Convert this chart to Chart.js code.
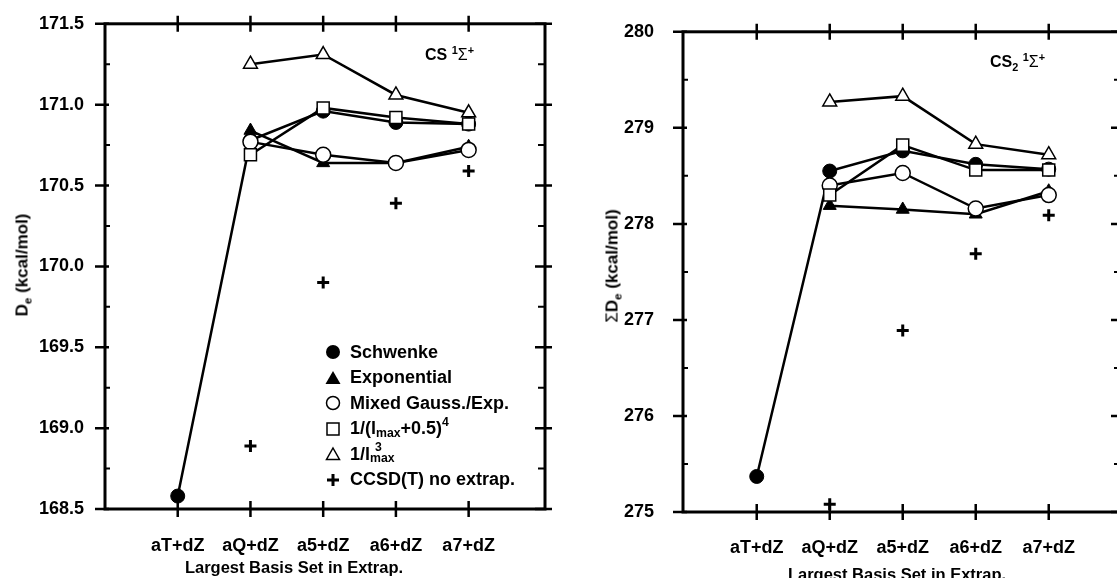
<!DOCTYPE html>
<html><head><meta charset="utf-8">
<script src="https://cdn.jsdelivr.net/npm/chart.js@4.4.0/dist/chart.umd.min.js"></script>
<style>
html,body{margin:0;padding:0;background:#fff;overflow:hidden;width:1117px;height:578px;}
#wrap{position:relative;width:1117px;height:578px;overflow:hidden;font-family:"Liberation Sans",Arial,Helvetica,sans-serif;font-weight:bold;color:#000;}
canvas{position:absolute;top:0;}
.t{position:absolute;white-space:nowrap;line-height:1;}
.c{transform:translate(-50%,-50%);}
.rot{transform:translate(-50%,-50%) rotate(-90deg);}
sub,sup{font-size:68%;line-height:0;position:relative;vertical-align:baseline;}
sub{top:0.35em;} sup{top:-0.55em;}
.sym{font-weight:normal;}
.lg{position:absolute;left:324px;font-size:18px;white-space:nowrap;display:flex;align-items:center;height:24px;}
.lg svg{width:18px;height:18px;margin-right:8px;}
</style>
</head>
<body>
<div id="wrap">
<canvas id="c1" width="560" height="578" style="left:0;width:560px;height:578px"></canvas>
<canvas id="c2" width="580" height="578" style="left:560px;width:580px;height:578px"></canvas>

<div class="t rot" style="left:22px;top:265px;font-size:17px">D<sub>e</sub> (kcal/mol)</div>
<div class="t rot" style="left:612px;top:266px;font-size:17px"><span class="sym">&Sigma;</span>D<sub>e</sub> (kcal/mol)</div>
<div class="t c" style="left:294px;top:567px;font-size:16.5px">Largest Basis Set in Extrap.</div>
<div class="t c" style="left:897px;top:574px;font-size:16.5px">Largest Basis Set in Extrap.</div>
<div class="t" style="left:425px;top:47px;font-size:16px">CS <sup>1</sup><span class="sym">&Sigma;</span><sup>+</sup></div>
<div class="t" style="left:990px;top:54px;font-size:16px">CS<sub>2</sub> <sup>1</sup><span class="sym">&Sigma;</span><sup>+</sup></div>

<div class="lg" style="top:340px"><svg viewBox="0 0 18 18"><circle cx="9" cy="9" r="7" fill="#000"/></svg>Schwenke</div>
<div class="lg" style="top:365.5px"><svg viewBox="0 0 18 18"><polygon points="9,2 16.5,15 1.5,15" fill="#000"/></svg>Exponential</div>
<div class="lg" style="top:391px"><svg viewBox="0 0 18 18"><circle cx="9" cy="9" r="6.5" fill="#fff" stroke="#000" stroke-width="1.5"/></svg>Mixed Gauss./Exp.</div>
<div class="lg" style="top:416.5px"><svg viewBox="0 0 18 18"><rect x="3" y="3" width="12" height="12" fill="#fff" stroke="#000" stroke-width="1.5"/></svg>1/(l<sub>max</sub>+0.5)<sup>4</sup></div>
<div class="lg" style="top:442px"><svg viewBox="0 0 18 18"><polygon points="9,3 15.5,14.5 2.5,14.5" fill="#fff" stroke="#000" stroke-width="1.5"/></svg>1/l<sub>max</sub><sup style="margin-left:-1.6em">3</sup><span style="display:inline-block;width:1.0em"></span></div>
<div class="lg" style="top:467.5px"><svg viewBox="0 0 18 18"><path d="M9 3 V15 M3 9 H15" stroke="#000" stroke-width="3"/></svg>CCSD(T) no extrap.</div>
</div>

<script>
const categories = ['aT+dZ', 'aQ+dZ', 'a5+dZ', 'a6+dZ', 'a7+dZ'];
const seriesNames = ['Schwenke', 'Exponential', 'Mixed Gauss./Exp.', '1/(lmax+0.5)^4', '1/lmax^3', 'CCSD(T) no extrap.'];

// CS 1Σ+  De (kcal/mol)
const csSchwenke    = [168.58, 170.78, 170.96, 170.89, 170.88];
const csExponential = [null,   170.84, 170.64, 170.64, 170.74];
const csMixed       = [null,   170.77, 170.69, 170.64, 170.72];
const csInv4        = [null,   170.69, 170.98, 170.92, 170.88];
const csInv3        = [null,   171.25, 171.31, 171.06, 170.95];
const csCCSD        = [null,   168.89, 169.90, 170.39, 170.59];
const csYTicks      = [168.5, 169.0, 169.5, 170.0, 170.5, 171.0, 171.5];
const csYLabels     = ['168.5', '169.0', '169.5', '170.0', '170.5', '171.0', '171.5'];

// CS2 1Σ+  ΣDe (kcal/mol)
const cs2Schwenke    = [275.37, 278.55, 278.76, 278.62, 278.57];
const cs2Exponential = [null,   278.19, 278.15, 278.10, 278.34];
const cs2Mixed       = [null,   278.40, 278.53, 278.16, 278.30];
const cs2Inv4        = [null,   278.30, 278.82, 278.56, 278.56];
const cs2Inv3        = [null,   279.27, 279.33, 278.83, 278.72];
const cs2CCSD        = [null,   275.08, 276.89, 277.69, 278.09];
const cs2YTicks      = [275, 276, 277, 278, 279, 280];
const cs2YLabels     = ['275', '276', '277', '278', '279', '280'];

Chart.defaults.font.family = '"Liberation Sans", Arial, Helvetica, sans-serif';
Chart.defaults.font.weight = 'bold';
Chart.defaults.font.size = 18;
Chart.defaults.color = '#000';

const toXY = arr => arr.map((v, i) => (v === null ? null : {x: i, y: v})).filter(p => p !== null);

const styles = [
  {pointStyle: 'circle',   pointRadius: 7,   pointBackgroundColor: '#000', pointBorderWidth: 1,   order: 5, showLine: true},
  {pointStyle: 'triangle', pointRadius: 7.5, pointBackgroundColor: '#000', pointBorderWidth: 1,   order: 4, showLine: true},
  {pointStyle: 'circle',   pointRadius: 7.5, pointBackgroundColor: '#fff', pointBorderWidth: 1.5, order: 3, showLine: true},
  {pointStyle: 'rect',     pointRadius: 8.5, pointBackgroundColor: '#fff', pointBorderWidth: 1.5, order: 1, showLine: true},
  {pointStyle: 'triangle', pointRadius: 8,   pointBackgroundColor: '#fff', pointBorderWidth: 1.5, order: 2, showLine: true},
  {pointStyle: 'cross',    pointRadius: 6,   pointBackgroundColor: '#000', pointBorderWidth: 3,   order: 6, showLine: false}
];

function makeDatasets(seriesList) {
  return seriesList.map((arr, k) => Object.assign({
    label: seriesNames[k],
    data: toXY(arr),
    borderColor: '#000',
    pointBorderColor: '#000',
    borderWidth: 2.5,
    tension: 0,
    clip: false
  }, styles[k]));
}

function framePlugin() {
  return {
    id: 'frame',
    afterDatasetsDraw(chart) {
      const ctx = chart.ctx, a = chart.chartArea, x = chart.scales.x, y = chart.scales.y;
      ctx.save();
      ctx.strokeStyle = '#000';
      ctx.lineWidth = 3;
      ctx.strokeRect(a.left, a.top, a.right - a.left, a.bottom - a.top);
      ctx.lineWidth = 2.5;
      ctx.beginPath();
      x.ticks.forEach(t => {
        const px = x.getPixelForValue(t.value);
        ctx.moveTo(px, a.bottom - 8); ctx.lineTo(px, a.bottom + 8);
        ctx.moveTo(px, a.top - 8); ctx.lineTo(px, a.top + 8);
      });
      y.ticks.forEach(t => {
        const py = y.getPixelForValue(t.value);
        ctx.moveTo(a.left - 10, py); ctx.lineTo(a.left + 4, py);
        ctx.moveTo(a.right - 10, py); ctx.lineTo(a.right + 7, py);
      });
      ctx.stroke();
      ctx.lineWidth = 2;
      ctx.beginPath();
      for (let i = 0; i < y.ticks.length - 1; i++) {
        const py = y.getPixelForValue((y.ticks[i].value + y.ticks[i + 1].value) / 2);
        ctx.moveTo(a.left, py); ctx.lineTo(a.left + 5, py);
        ctx.moveTo(a.right - 7, py); ctx.lineTo(a.right, py);
      }
      ctx.stroke();
      ctx.restore();
    }
  };
}

function makeChart(id, seriesList, yTicks, yLabels, cfg) {
  return new Chart(document.getElementById(id), {
    type: 'line',
    data: {datasets: makeDatasets(seriesList)},
    options: {
      responsive: false,
      animation: false,
      events: [],
      layout: {padding: cfg.padding},
      plugins: {legend: {display: false}, tooltip: {enabled: false}},
      scales: {
        x: {
          type: 'linear', min: cfg.xMin, max: cfg.xMax,
          grid: {display: false}, border: {display: false},
          afterBuildTicks: s => { s.ticks = categories.map((c, i) => ({value: i})); },
          afterFit: s => { s.height = cfg.xHeight; },
          ticks: {autoSkip: false, maxRotation: 0, padding: cfg.xPad, font: {size: 18, weight: 'bold'},
                  callback: v => categories[v] !== undefined ? categories[v] : ''}
        },
        y: {
          type: 'linear', min: yTicks[0], max: yTicks[yTicks.length - 1],
          grid: {display: false}, border: {display: false},
          afterBuildTicks: s => { s.ticks = yTicks.map(v => ({value: v})); },
          afterFit: s => { s.width = cfg.yWidth; },
          ticks: {padding: cfg.yPad, font: {size: 18, weight: 'bold'},
                  callback: (v) => { const i = yTicks.indexOf(v); return i >= 0 ? yLabels[i] : ''; }}
        }
      }
    },
    plugins: [framePlugin()]
  });
}

makeChart('c1', [csSchwenke, csExponential, csMixed, csInv4, csInv3, csCCSD], csYTicks, csYLabels,
  {padding: {top: 22, right: 15, bottom: 0, left: 0}, xMin: -1, xMax: 5.05, xHeight: 69, yWidth: 105, xPad: 18, yPad: 13});
makeChart('c2', [cs2Schwenke, cs2Exponential, cs2Mixed, cs2Inv4, cs2Inv3, cs2CCSD], cs2YTicks, cs2YLabels,
  {padding: {top: 20, right: 19, bottom: 0, left: 0}, xMin: -1.01, xMax: 4.99, xHeight: 66, yWidth: 123, xPad: 17, yPad: 21});
</script>
</body></html>
